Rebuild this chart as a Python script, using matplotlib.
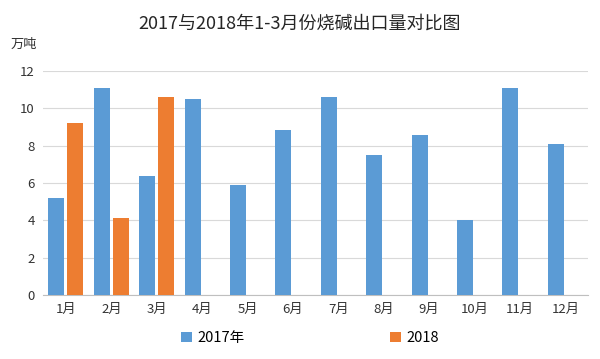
import matplotlib
matplotlib.use("Agg")
import matplotlib.pyplot as plt
import numpy as np
from matplotlib.patches import Patch

plt.rcParams['font.family'] = ['Noto Sans CJK SC', 'DejaVu Sans']

months = ['1月', '2月', '3月', '4月', '5月', '6月', '7月', '8月', '9月', '10月', '11月', '12月']
v2017 = [5.2, 11.1, 6.4, 10.5, 5.9, 8.85, 10.6, 7.5, 8.6, 4.0, 11.1, 8.1]
v2018 = [9.2, 4.15, 10.6]
yticks = [0, 2, 4, 6, 8, 10, 12]

blue = '#5B9BD5'
orange = '#ED7D31'

fig = plt.figure(figsize=(6.0, 3.59), dpi=100)
ax = fig.add_axes([0.072, 0.178, 0.908, 0.624])

x = np.arange(len(months))
w = 0.35
off = 0.21
ax.bar(x - off, v2017, width=w, color=blue, zorder=3)
ax.bar(np.arange(len(v2018)) + off, v2018, width=w, color=orange, zorder=3)

ax.set_xlim(-0.5, len(months) - 0.5)
ax.set_ylim(0, 12)
ax.set_yticks(yticks)
ax.set_yticklabels([str(t) for t in yticks], fontsize=9.5, color='#333333')
ax.set_xticks(x)
ax.set_xticklabels(months, fontsize=9.5, color='#333333')
ax.tick_params(axis='both', length=0, pad=6)
ax.grid(axis='y', color='#d9d9d9', linewidth=0.8, zorder=0)
for s in ['top', 'right', 'left']:
    ax.spines[s].set_visible(False)
ax.spines['bottom'].set_color('#bfbfbf')
ax.spines['bottom'].set_linewidth(0.8)

fig.text(0.5, 0.935, '2017与2018年1-3月份烧碱出口量对比图', ha='center', va='center',
         fontsize=13, color='#262626')
fig.text(0.018, 0.875, '万吨', ha='left', va='center', fontsize=9.5, color='#333333')

handles = [Patch(facecolor=blue), Patch(facecolor=orange)]
fig.legend(handles, ['2017年', '2018'], loc='center', bbox_to_anchor=(0.517, 0.058),
           ncol=2, frameon=False, fontsize=10.5, columnspacing=10.0,
           handlelength=0.7, handleheight=0.7, handletextpad=0.4)

fig.savefig('out.png', dpi=100)
